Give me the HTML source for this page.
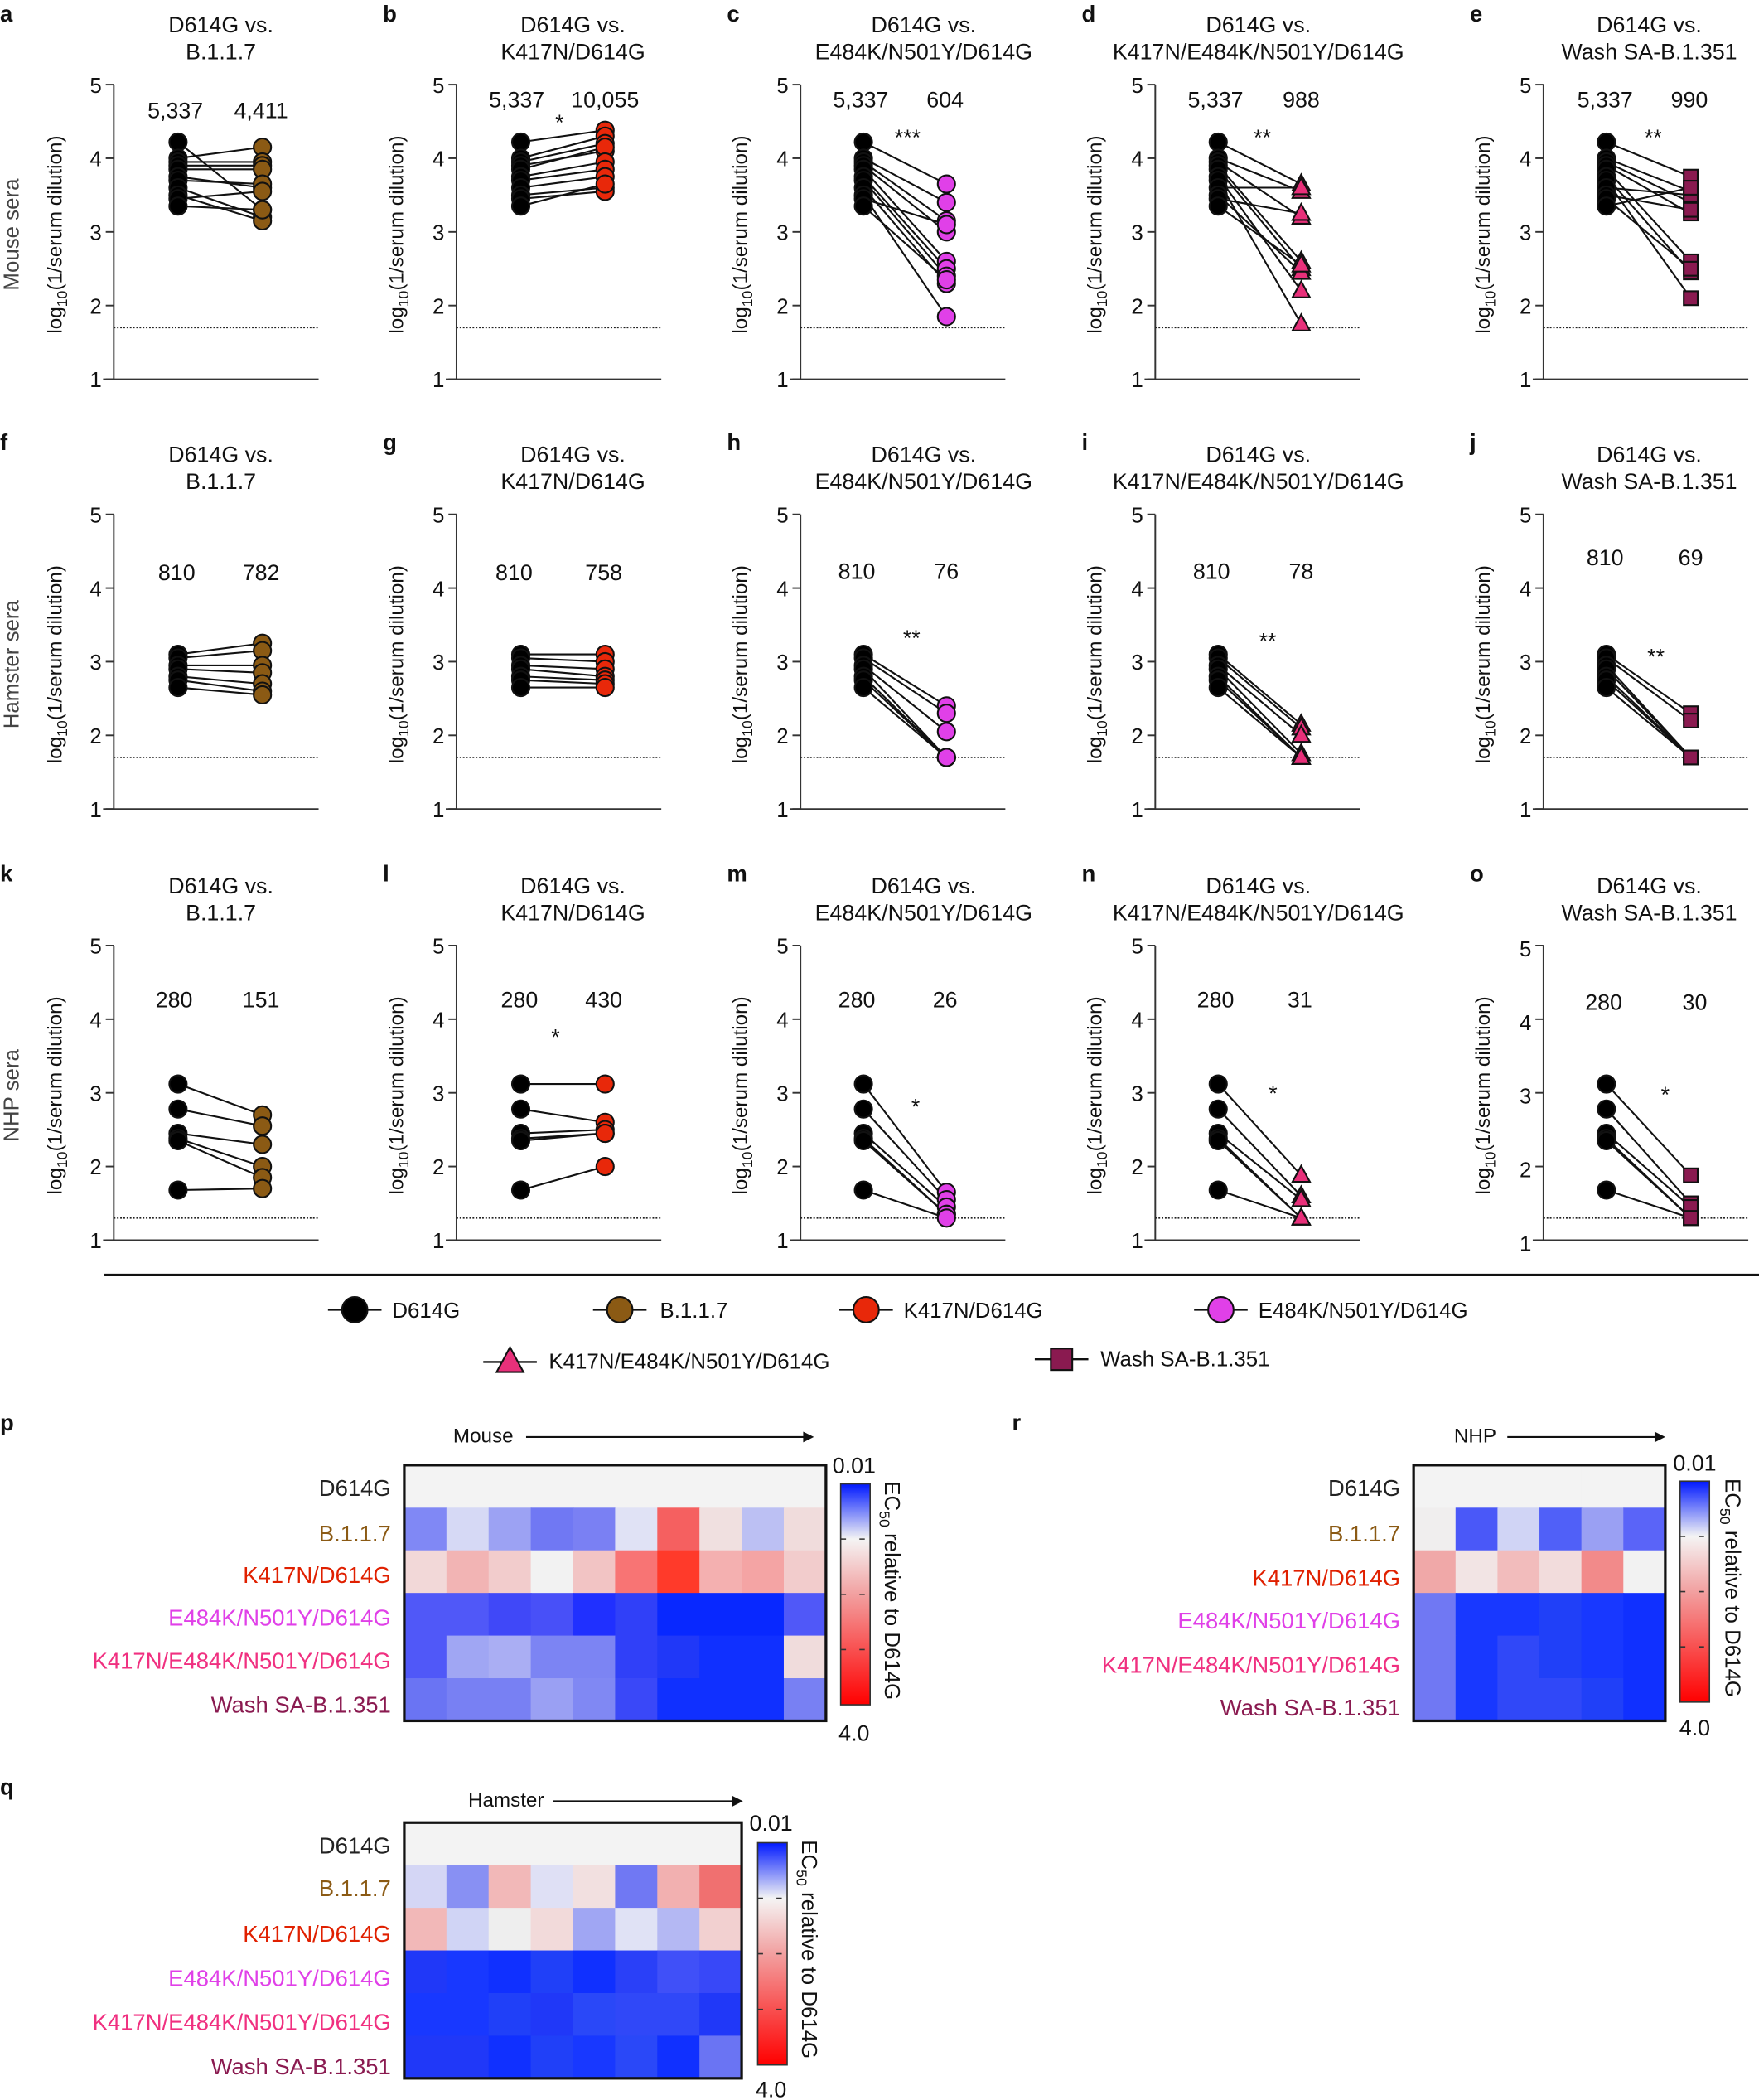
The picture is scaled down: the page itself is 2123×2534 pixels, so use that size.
<!DOCTYPE html>
<html><head><meta charset="utf-8"><style>
html,body{margin:0;padding:0;background:#fff}
svg{display:block}
text{font-family:"Liberation Sans Narrow","Liberation Sans",sans-serif;fill:#111}
.t{font-size:16.6px;text-anchor:middle}
.tk{font-size:16px;text-anchor:end}
.yl{font-family:"Liberation Sans",sans-serif;font-size:15px;text-anchor:middle}
.pl{font-family:"Liberation Sans",sans-serif;font-size:17px;font-weight:bold}
.lg{font-family:"Liberation Sans",sans-serif;font-size:16px}
.hl{font-family:"Liberation Sans",sans-serif;font-size:17px;text-anchor:end}
</style></head><body>
<svg id="s" xmlns="http://www.w3.org/2000/svg" width="2123" height="2534" viewBox="0 0 1314 1568">
<defs><linearGradient id="cb" x1="0" y1="0" x2="0" y2="1">
<stop offset="0" stop-color="#0018ff"/><stop offset="0.25" stop-color="#f4f4f4"/><stop offset="0.5" stop-color="#f2a0a0"/><stop offset="1" stop-color="#ff0000"/></linearGradient></defs>
<g id="g"></g>
<text class="pl" x="0" y="16">a</text><text class="pl" x="286" y="16">b</text><text class="pl" x="543" y="16">c</text><text class="pl" x="808" y="16">d</text><text class="pl" x="1098" y="16">e</text>
<text class="pl" x="0" y="336">f</text><text class="pl" x="286" y="336">g</text><text class="pl" x="543" y="336">h</text><text class="pl" x="808" y="336">i</text><text class="pl" x="1098" y="336">j</text>
<text class="pl" x="0" y="658">k</text><text class="pl" x="286" y="658">l</text><text class="pl" x="543" y="658">m</text><text class="pl" x="808" y="658">n</text><text class="pl" x="1098" y="658">o</text>
<text class="pl" x="0" y="1068">p</text><text class="pl" x="756" y="1068">r</text><text class="pl" x="0" y="1340">q</text>
<g class="t">
<text class="t" x="165" y="24">D614G vs.</text><text class="t" x="165" y="44">B.1.1.7</text>
<text class="t" x="428" y="24">D614G vs.</text><text class="t" x="428" y="44">K417N/D614G</text>
<text class="t" x="690" y="24">D614G vs.</text><text class="t" x="690" y="44">E484K/N501Y/D614G</text>
<text class="t" x="940" y="24">D614G vs.</text><text class="t" x="940" y="44">K417N/E484K/N501Y/D614G</text>
<text class="t" x="1232" y="24">D614G vs.</text><text class="t" x="1232" y="44">Wash SA-B.1.351</text>
<text class="t" x="165" y="345">D614G vs.</text><text class="t" x="165" y="365">B.1.1.7</text>
<text class="t" x="428" y="345">D614G vs.</text><text class="t" x="428" y="365">K417N/D614G</text>
<text class="t" x="690" y="345">D614G vs.</text><text class="t" x="690" y="365">E484K/N501Y/D614G</text>
<text class="t" x="940" y="345">D614G vs.</text><text class="t" x="940" y="365">K417N/E484K/N501Y/D614G</text>
<text class="t" x="1232" y="345">D614G vs.</text><text class="t" x="1232" y="365">Wash SA-B.1.351</text>
<text class="t" x="165" y="667">D614G vs.</text><text class="t" x="165" y="687">B.1.1.7</text>
<text class="t" x="428" y="667">D614G vs.</text><text class="t" x="428" y="687">K417N/D614G</text>
<text class="t" x="690" y="667">D614G vs.</text><text class="t" x="690" y="687">E484K/N501Y/D614G</text>
<text class="t" x="940" y="667">D614G vs.</text><text class="t" x="940" y="687">K417N/E484K/N501Y/D614G</text>
<text class="t" x="1232" y="667">D614G vs.</text><text class="t" x="1232" y="687">Wash SA-B.1.351</text>
</g>
<text class="t" x="131" y="88">5,337</text><text class="t" x="195" y="88">4,411</text>
<text class="t" x="386" y="80">5,337</text><text class="t" x="452" y="80">10,055</text><text class="t" x="418" y="97">*</text>
<text class="t" x="643" y="80">5,337</text><text class="t" x="706" y="80">604</text><text class="t" x="678" y="108">***</text>
<text class="t" x="908" y="80">5,337</text><text class="t" x="972" y="80">988</text><text class="t" x="943" y="108">**</text>
<text class="t" x="1199" y="80">5,337</text><text class="t" x="1262" y="80">990</text><text class="t" x="1235" y="108">**</text>
<text class="t" x="132" y="433">810</text><text class="t" x="195" y="433">782</text>
<text class="t" x="384" y="433">810</text><text class="t" x="451" y="433">758</text>
<text class="t" x="640" y="432">810</text><text class="t" x="707" y="432">76</text><text class="t" x="681" y="482">**</text>
<text class="t" x="905" y="432">810</text><text class="t" x="972" y="432">78</text><text class="t" x="947" y="484">**</text>
<text class="t" x="1199" y="422">810</text><text class="t" x="1263" y="422">69</text><text class="t" x="1237" y="496">**</text>
<text class="t" x="130" y="752">280</text><text class="t" x="195" y="752">151</text>
<text class="t" x="388" y="752">280</text><text class="t" x="451" y="752">430</text><text class="t" x="415" y="780">*</text>
<text class="t" x="640" y="752">280</text><text class="t" x="706" y="752">26</text><text class="t" x="684" y="832">*</text>
<text class="t" x="908" y="752">280</text><text class="t" x="971" y="752">31</text><text class="t" x="951" y="822">*</text>
<text class="t" x="1198" y="754">280</text><text class="t" x="1266" y="754">30</text><text class="t" x="1244" y="823">*</text>
<text class="yl" transform="translate(14,175) rotate(-90)" style="fill:#444;font-size:16px">Mouse sera</text>
<text class="yl" transform="translate(14,496) rotate(-90)" style="fill:#444;font-size:16px">Hamster sera</text>
<text class="yl" transform="translate(14,818) rotate(-90)" style="fill:#444;font-size:16px">NHP sera</text>
<line x1="78" y1="952" x2="1314" y2="952" stroke="#111" stroke-width="2"/>
<text class="lg" x="293" y="984">D614G</text>
<text class="lg" x="493" y="984">B.1.1.7</text>
<text class="lg" x="675" y="984">K417N/D614G</text>
<text class="lg" x="940" y="984">E484K/N501Y/D614G</text>
<text class="lg" x="410" y="1022">K417N/E484K/N501Y/D614G</text>
<text class="lg" x="822" y="1020">Wash SA-B.1.351</text>
<g>
<text class="hl" x="292" y="1117" style="fill:#222">D614G</text>
<text class="hl" x="292" y="1151" style="fill:#8b5a14">B.1.1.7</text>
<text class="hl" x="292" y="1182" style="fill:#e02000">K417N/D614G</text>
<text class="hl" x="292" y="1214" style="fill:#e040e8">E484K/N501Y/D614G</text>
<text class="hl" x="292" y="1246" style="fill:#f03080">K417N/E484K/N501Y/D614G</text>
<text class="hl" x="292" y="1279" style="fill:#8a1a50">Wash SA-B.1.351</text>
<text class="hl" x="1046" y="1117" style="fill:#222">D614G</text>
<text class="hl" x="1046" y="1151" style="fill:#8b5a14">B.1.1.7</text>
<text class="hl" x="1046" y="1184" style="fill:#e02000">K417N/D614G</text>
<text class="hl" x="1046" y="1216" style="fill:#e040e8">E484K/N501Y/D614G</text>
<text class="hl" x="1046" y="1249" style="fill:#f03080">K417N/E484K/N501Y/D614G</text>
<text class="hl" x="1046" y="1281" style="fill:#8a1a50">Wash SA-B.1.351</text>
<text class="hl" x="292" y="1384" style="fill:#222">D614G</text>
<text class="hl" x="292" y="1416" style="fill:#8b5a14">B.1.1.7</text>
<text class="hl" x="292" y="1450" style="fill:#e02000">K417N/D614G</text>
<text class="hl" x="292" y="1483" style="fill:#e040e8">E484K/N501Y/D614G</text>
<text class="hl" x="292" y="1516" style="fill:#f03080">K417N/E484K/N501Y/D614G</text>
<text class="hl" x="292" y="1549" style="fill:#8a1a50">Wash SA-B.1.351</text>
</g>
<text class="t" x="361" y="1077" style="font-size:15px">Mouse</text>
<text class="t" x="1102" y="1077" style="font-size:15px">NHP</text>
<text class="t" x="378" y="1349" style="font-size:15px">Hamster</text>
<text class="t" x="638" y="1100">0.01</text><text class="t" x="638" y="1300">4.0</text>
<text class="t" x="1266" y="1098">0.01</text><text class="t" x="1266" y="1296">4.0</text>
<text class="t" x="576" y="1367">0.01</text><text class="t" x="576" y="1566">4.0</text>
<text class="yl" style="text-anchor:start;font-size:16px" transform="translate(661,1106) rotate(90)">EC<tspan dy="4" font-size="11">50</tspan><tspan dy="-4"> relative to D614G</tspan></text>
<text class="yl" style="text-anchor:start;font-size:16px" transform="translate(1289,1104) rotate(90)">EC<tspan dy="4" font-size="11">50</tspan><tspan dy="-4"> relative to D614G</tspan></text>
<text class="yl" style="text-anchor:start;font-size:16px" transform="translate(599,1374) rotate(90)">EC<tspan dy="4" font-size="11">50</tspan><tspan dy="-4"> relative to D614G</tspan></text>
<text class="yl" transform="translate(46,175) rotate(-90)">log<tspan dy="4" font-size="11">10</tspan><tspan dy="-4">(1/serum dilution)</tspan></text>
<text class="yl" transform="translate(301,175) rotate(-90)">log<tspan dy="4" font-size="11">10</tspan><tspan dy="-4">(1/serum dilution)</tspan></text>
<text class="yl" transform="translate(558,175) rotate(-90)">log<tspan dy="4" font-size="11">10</tspan><tspan dy="-4">(1/serum dilution)</tspan></text>
<text class="yl" transform="translate(823,175) rotate(-90)">log<tspan dy="4" font-size="11">10</tspan><tspan dy="-4">(1/serum dilution)</tspan></text>
<text class="yl" transform="translate(1113,175) rotate(-90)">log<tspan dy="4" font-size="11">10</tspan><tspan dy="-4">(1/serum dilution)</tspan></text>
<text class="yl" transform="translate(46,496) rotate(-90)">log<tspan dy="4" font-size="11">10</tspan><tspan dy="-4">(1/serum dilution)</tspan></text>
<text class="yl" transform="translate(301,496) rotate(-90)">log<tspan dy="4" font-size="11">10</tspan><tspan dy="-4">(1/serum dilution)</tspan></text>
<text class="yl" transform="translate(558,496) rotate(-90)">log<tspan dy="4" font-size="11">10</tspan><tspan dy="-4">(1/serum dilution)</tspan></text>
<text class="yl" transform="translate(823,496) rotate(-90)">log<tspan dy="4" font-size="11">10</tspan><tspan dy="-4">(1/serum dilution)</tspan></text>
<text class="yl" transform="translate(1113,496) rotate(-90)">log<tspan dy="4" font-size="11">10</tspan><tspan dy="-4">(1/serum dilution)</tspan></text>
<text class="yl" transform="translate(46,818) rotate(-90)">log<tspan dy="4" font-size="11">10</tspan><tspan dy="-4">(1/serum dilution)</tspan></text>
<text class="yl" transform="translate(301,818) rotate(-90)">log<tspan dy="4" font-size="11">10</tspan><tspan dy="-4">(1/serum dilution)</tspan></text>
<text class="yl" transform="translate(558,818) rotate(-90)">log<tspan dy="4" font-size="11">10</tspan><tspan dy="-4">(1/serum dilution)</tspan></text>
<text class="yl" transform="translate(823,818) rotate(-90)">log<tspan dy="4" font-size="11">10</tspan><tspan dy="-4">(1/serum dilution)</tspan></text>
<text class="yl" transform="translate(1113,818) rotate(-90)">log<tspan dy="4" font-size="11">10</tspan><tspan dy="-4">(1/serum dilution)</tspan></text>
<g class="tk">
<text class="tk" x="76" y="69">5</text><text class="tk" x="76" y="124">4</text><text class="tk" x="76" y="179">3</text><text class="tk" x="76" y="234">2</text><text class="tk" x="76" y="289">1</text>
<text class="tk" x="332" y="69">5</text><text class="tk" x="332" y="124">4</text><text class="tk" x="332" y="179">3</text><text class="tk" x="332" y="234">2</text><text class="tk" x="332" y="289">1</text>
<text class="tk" x="589" y="69">5</text><text class="tk" x="589" y="124">4</text><text class="tk" x="589" y="179">3</text><text class="tk" x="589" y="234">2</text><text class="tk" x="589" y="289">1</text>
<text class="tk" x="854" y="69">5</text><text class="tk" x="854" y="124">4</text><text class="tk" x="854" y="179">3</text><text class="tk" x="854" y="234">2</text><text class="tk" x="854" y="289">1</text>
<text class="tk" x="1144" y="69">5</text><text class="tk" x="1144" y="124">4</text><text class="tk" x="1144" y="179">3</text><text class="tk" x="1144" y="234">2</text><text class="tk" x="1144" y="289">1</text>
<text class="tk" x="76" y="390">5</text><text class="tk" x="76" y="445">4</text><text class="tk" x="76" y="500">3</text><text class="tk" x="76" y="555">2</text><text class="tk" x="76" y="610">1</text>
<text class="tk" x="332" y="390">5</text><text class="tk" x="332" y="445">4</text><text class="tk" x="332" y="500">3</text><text class="tk" x="332" y="555">2</text><text class="tk" x="332" y="610">1</text>
<text class="tk" x="589" y="390">5</text><text class="tk" x="589" y="445">4</text><text class="tk" x="589" y="500">3</text><text class="tk" x="589" y="555">2</text><text class="tk" x="589" y="610">1</text>
<text class="tk" x="854" y="390">5</text><text class="tk" x="854" y="445">4</text><text class="tk" x="854" y="500">3</text><text class="tk" x="854" y="555">2</text><text class="tk" x="854" y="610">1</text>
<text class="tk" x="1144" y="390">5</text><text class="tk" x="1144" y="445">4</text><text class="tk" x="1144" y="500">3</text><text class="tk" x="1144" y="555">2</text><text class="tk" x="1144" y="610">1</text>
<text class="tk" x="76" y="712">5</text><text class="tk" x="76" y="767">4</text><text class="tk" x="76" y="822">3</text><text class="tk" x="76" y="877">2</text><text class="tk" x="76" y="932">1</text>
<text class="tk" x="332" y="712">5</text><text class="tk" x="332" y="767">4</text><text class="tk" x="332" y="822">3</text><text class="tk" x="332" y="877">2</text><text class="tk" x="332" y="932">1</text>
<text class="tk" x="589" y="712">5</text><text class="tk" x="589" y="767">4</text><text class="tk" x="589" y="822">3</text><text class="tk" x="589" y="877">2</text><text class="tk" x="589" y="932">1</text>
<text class="tk" x="854" y="712">5</text><text class="tk" x="854" y="767">4</text><text class="tk" x="854" y="822">3</text><text class="tk" x="854" y="877">2</text><text class="tk" x="854" y="932">1</text>
<text class="tk" x="1144" y="714">5</text><text class="tk" x="1144" y="769">4</text><text class="tk" x="1144" y="824">3</text><text class="tk" x="1144" y="879">2</text><text class="tk" x="1144" y="934">1</text>
</g>
</svg>
<script>
(function(){
var NS="http://www.w3.org/2000/svg",g=document.getElementById('g');
function el(t,a){var e=document.createElementNS(NS,t);for(var k in a)e.setAttribute(k,a[k]);g.appendChild(e);return e;}
var ax=[85,341,598,863,1153],px=[[133,196],[389,452],[645,707],[910,972],[1200,1263]];
var base=[283,604,926],lod=[1.7,1.7,1.3];
var col=['#8b5a14','#e8280a','#e040e8','#e8307a','#8a1a50'],shp=['c','c','c','t','s'];
var L=[[4.22,4.0,3.95,3.9,3.85,3.75,3.7,3.6,3.5,3.45,3.35],[3.1,3.05,2.95,2.9,2.8,2.75,2.65],[3.12,2.78,2.45,2.38,2.35,1.68]];
var R=[
[[3.3,4.15,3.95,3.9,3.85,3.6,3.65,3.2,3.15,3.55,3.3],[4.38,4.3,4.2,4.1,4.15,3.95,3.85,3.75,3.6,3.55,3.65],[3.65,3.4,3.15,3.0,2.6,2.5,2.4,2.3,1.85,3.1,2.35],[3.65,3.55,3.2,2.6,2.5,2.2,1.75,3.6,2.45,3.25,2.55],[3.75,3.55,3.4,3.25,2.6,2.45,2.1,3.5,3.3,2.5,3.6]],
[[3.25,3.15,2.95,2.85,2.7,2.6,2.55],[3.1,3.0,2.9,2.8,2.75,2.7,2.65],[2.4,2.3,2.05,1.7,1.7,1.7,1.7],[2.15,2.1,2.0,1.75,1.7,1.7,1.7],[2.3,2.2,1.7,1.7,1.7,1.7,1.7]],
[[2.7,2.55,2.3,2.0,1.85,1.7],[3.12,2.6,2.5,2.45,2.45,2.0],[1.65,1.55,1.45,1.35,1.35,1.3],[1.88,1.6,1.55,1.3,1.3,1.3],[1.88,1.5,1.45,1.3,1.3,1.3]]];
function mk(type,x,y,c,r){
 if(type=='c')el('circle',{cx:x,cy:y,r:r,fill:c,stroke:'#111','stroke-width':1.3});
 else if(type=='t')el('polygon',{points:(x)+','+(y-r*1.1)+' '+(x-r)+','+(y+r*0.75)+' '+(x+r)+','+(y+r*0.75),fill:c,stroke:'#111','stroke-width':1.3});
 else el('rect',{x:x-r*0.8,y:y-r*0.8,width:r*1.6,height:r*1.6,fill:c,stroke:'#111','stroke-width':1.3});
}
for(var ri=0;ri<3;ri++)for(var ci=0;ci<5;ci++){
 var b=base[ri],x=ax[ci],top=b-220;
 el('line',{x1:x,y1:top,x2:x,y2:b,stroke:'#333','stroke-width':1.2});
 el('line',{x1:x-8,y1:b,x2:x+153,y2:b,stroke:'#333','stroke-width':1.2});
 for(var k=0;k<5;k++)el('line',{x1:x-6,y1:b-k*55,x2:x,y2:b-k*55,stroke:'#333','stroke-width':1.2});
 var ly=b-(lod[ri]-1)*55;
 el('line',{x1:x,y1:ly,x2:x+153,y2:ly,stroke:'#222','stroke-width':1,'stroke-dasharray':'1.2,1.2'});
 var l=L[ri],r=R[ri][ci];
 for(var i=0;i<l.length;i++)el('line',{x1:px[ci][0],y1:b-(l[i]-1)*55,x2:px[ci][1],y2:b-(r[i]-1)*55,stroke:'#111','stroke-width':1.3});
 for(var i=0;i<l.length;i++)mk('c',px[ci][0],b-(l[i]-1)*55,'#000',6.5);
 for(var i=0;i<r.length;i++)mk(shp[ci],px[ci][1],b-(r[i]-1)*55,col[ci],6.5);
}
var lg=[[265,978,'c','#000'],[463,978,'c','#8b5a14'],[647,978,'c','#e8280a'],[912,978,'c','#e040e8'],[381,1017,'t','#e8307a'],[793,1015,'s','#8a1a50']];
lg.forEach(function(q){el('line',{x1:q[0]-20,y1:q[1],x2:q[0]+20,y2:q[1],stroke:'#111','stroke-width':1.5});mk(q[2],q[0],q[1],q[3],q[2]=='c'?9.5:10);});
function hm(x0,y0,w,h,cols,data){
 var n=cols,cw=w/n,rh=h/6;
 for(var c=0;c<n;c++)el('rect',{x:x0+c*cw,y:y0,width:cw+0.6,height:rh+0.6,fill:'#f3f3f3'});
 for(var r=0;r<5;r++)for(var c=0;c<n;c++)el('rect',{x:x0+c*cw,y:y0+(r+1)*rh,width:cw+0.6,height:rh+0.6,fill:data[r][c]});
 el('rect',{x:x0,y:y0,width:w,height:h,fill:'none',stroke:'#111','stroke-width':2});
}
hm(302,1094,315,191,10,[
['#8088f5','#d6d9f5','#9ca2f3','#7078f3','#7a80f3','#e0e2f5','#f56060','#f0e0e0','#bcc0f3','#f0dcdc'],
['#f2d8d8','#f2b4b4','#f2cccc','#f2f2f2','#f2c4c4','#f87474','#ff3a2a','#f4b0b0','#f4a4a4','#f2cccc'],
['#5058f8','#5058f8','#4048f8','#4850f8','#2030ff','#3040f8','#0828ff','#0828ff','#0828ff','#5058f8'],
['#5058f8','#a0a6f3','#aaaef3','#7c84f3','#7c84f3','#3040f8','#2038f8','#1030ff','#1030ff','#f0dcdc'],
['#6a74f3','#7880f3','#7880f3','#9aa0f3','#8088f3','#3a48f8','#1030ff','#1030ff','#1030ff','#7880f3']]);
hm(1056,1094,188,191,6,[
['#f0eeee','#4a58f8','#d0d4f5','#5060f8','#9aa0f3','#5a64f8'],
['#f0a8a8','#f2e4e4','#f2bcbc','#f2dcdc','#f28a8a','#f2f2f2'],
['#7078f3','#1838ff','#1838ff','#2040f8','#1838ff','#1030ff'],
['#7078f3','#1838ff','#3048f8','#2040f8','#1838ff','#1030ff'],
['#7078f3','#1838ff','#3048f8','#3048f8','#2040f8','#1030ff']]);
hm(302,1361,252,191,8,[
['#d4d6f5','#8890f3','#f2b8b8','#dfe0f5','#f2e0e0','#7078f3','#f2b0b0','#f07070'],
['#f2b8b8','#d0d4f5','#eeeeee','#f2dada','#a0a6f3','#e0e2f5','#b4b8f3','#f2d0d0'],
['#2038f8','#1838ff','#1030ff','#2040f8','#1030ff','#2a40f8','#4050f8','#3848f8'],
['#1838ff','#1838ff','#2040f8','#2038f8','#2a48f8','#3048f8','#3048f8','#2038f8'],
['#2038f8','#2038f8','#1030ff','#2040f8','#1838ff','#2a48f8','#1030ff','#6a74f3']]);
function cbar(x,y,h){el('rect',{x:x,y:y,width:22,height:h,fill:'url(#cb)',stroke:'#333','stroke-width':1});
 for(var k=1;k<4;k++)el('line',{x1:x,y1:y+h*k/4,x2:x+22,y2:y+h*k/4,stroke:'#333','stroke-width':1,'stroke-dasharray':'4,10'});}
cbar(628,1108,165);cbar(1255,1106,165);cbar(566,1376,166);
function arr(x1,x2,y){el('line',{x1:x1,y1:y,x2:x2,y2:y,stroke:'#111','stroke-width':1.3});el('polygon',{points:(x2+2)+','+y+' '+(x2-6)+','+(y-4)+' '+(x2-6)+','+(y+4),fill:'#111'});}
arr(393,606,1073);arr(1126,1242,1073);arr(413,553,1345);
})();
</script>
</body></html>
